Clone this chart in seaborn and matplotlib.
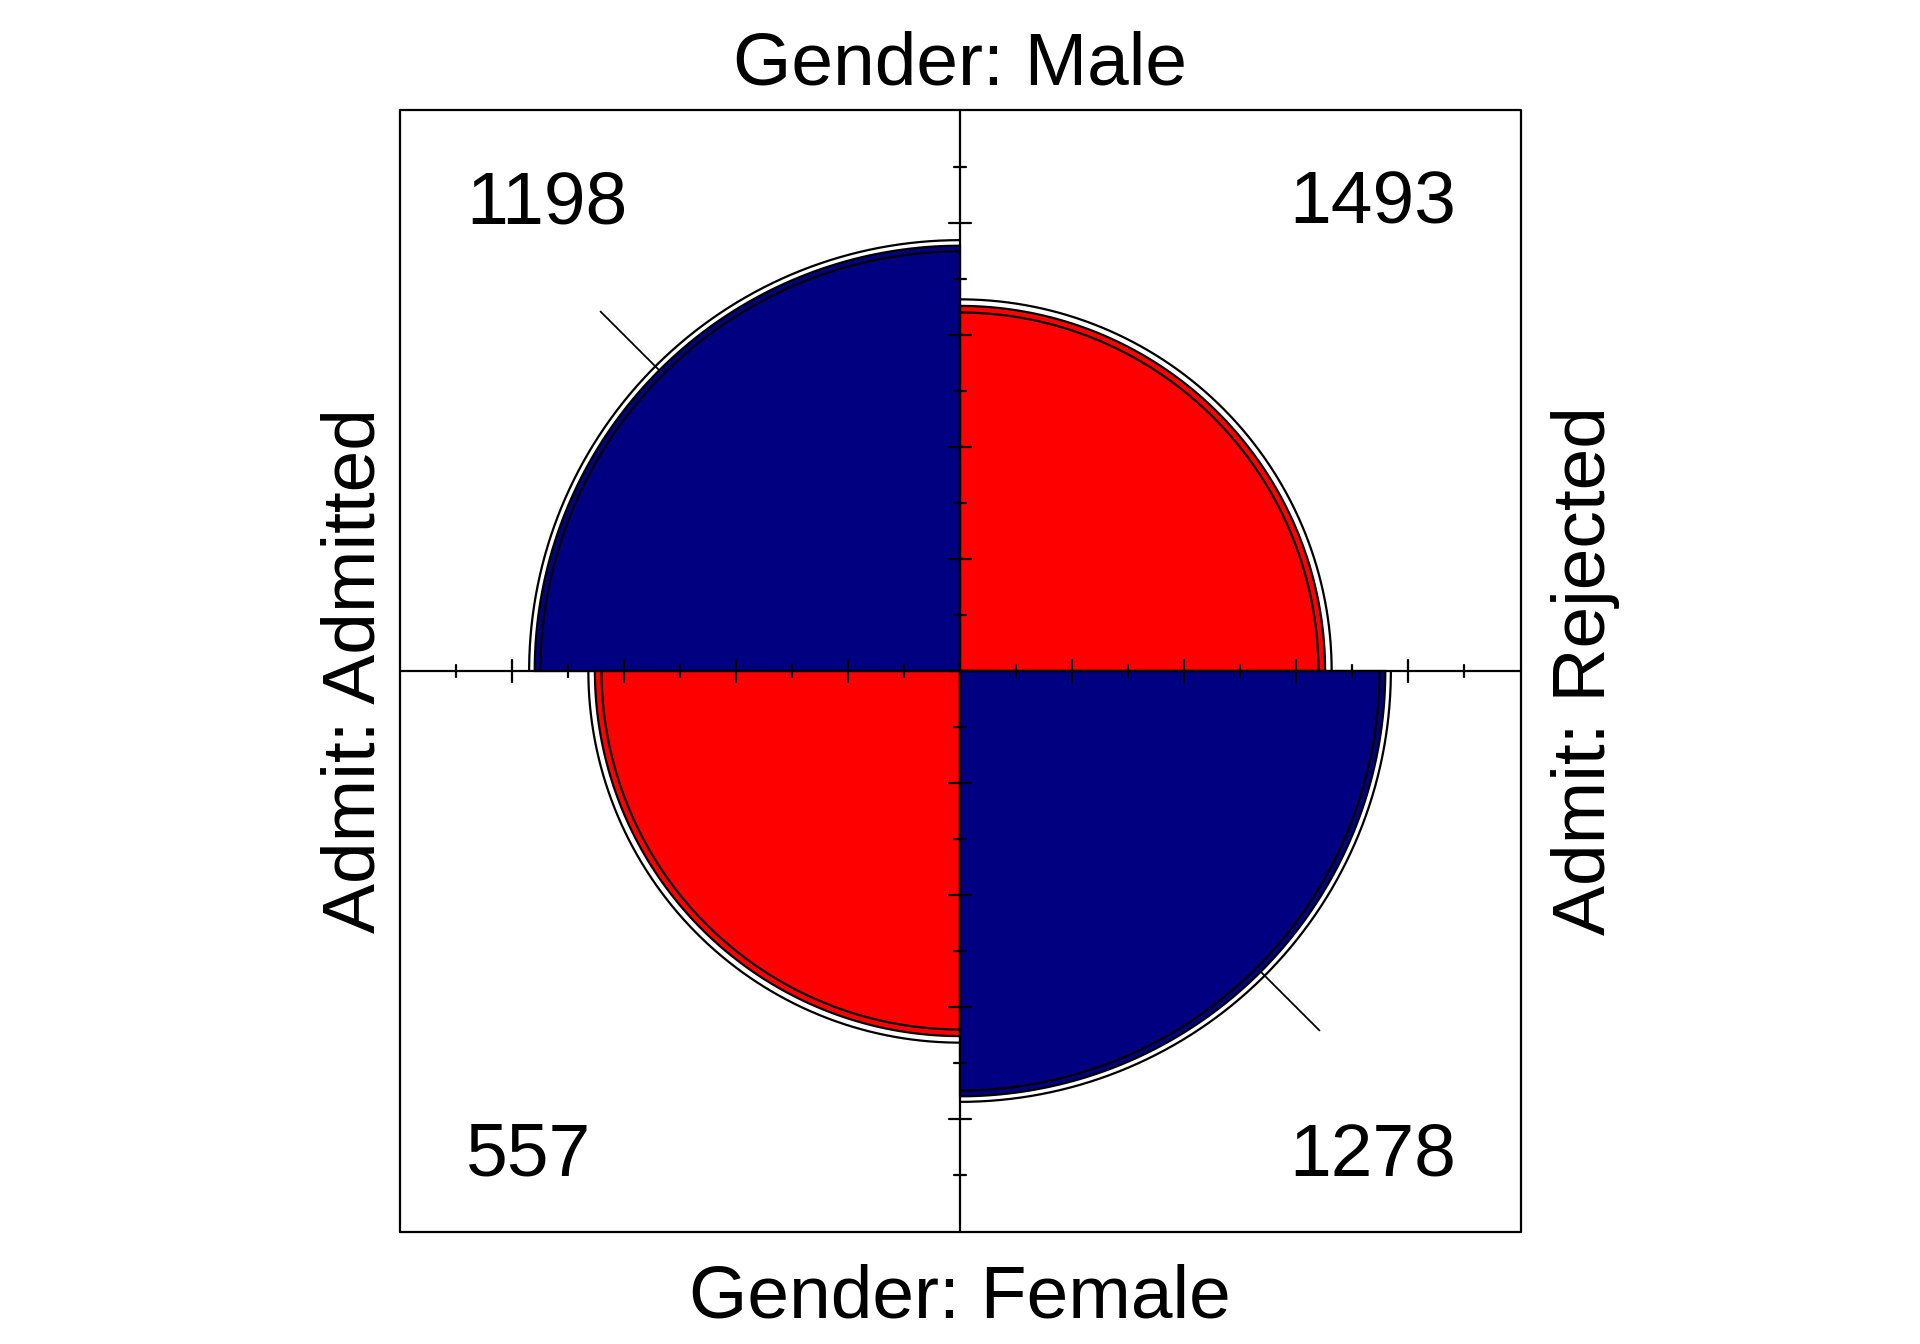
import numpy as np
import pandas as pd
import matplotlib
matplotlib.use("Agg")
import matplotlib.pyplot as plt
import seaborn as sns

# ---------------- data (UCB admissions, aggregated) ----------------
row_var = "Admit"
row_levels = ["Admitted", "Rejected"]
col_var = "Gender"
col_levels = ["Male", "Female"]
male_counts = [1198, 1493]      # Admitted, Rejected
female_counts = [557, 1278]     # Admitted, Rejected
conf_level = 0.95

# ---------------- style ----------------
sns.set_theme(style="white")
plt.rcParams['font.family'] = ['Liberation Sans', 'DejaVu Sans']
plt.rcParams['text.color'] = 'black'

W, H = 1920, 1344
fig = plt.figure(figsize=(19.2, 13.44), dpi=100)
ax = fig.add_axes([0, 0, 1, 1])
unit = 560.5
cx, cy = 960.0, 671.0

LW = 1.6
BLUE = "#000080"
RED = "#FF0000"
FS = 54

# ---------------- standardisation (margins) ----------------
a, b = male_counts          # TL, TR
c, d = female_counts        # BL, BR
odds_ratio = a * d / (b * c)
se = np.sqrt(1 / a + 1 / b + 1 / c + 1 / d)
z = 1.959964
or_lo = odds_ratio * np.exp(-z * se)
or_hi = odds_ratio * np.exp(z * se)


def ustd(theta):
    r = np.sqrt(theta)
    return r / (1 + r)


u = ustd(odds_ratio)
u_lo, u_hi = ustd(or_lo), ustd(or_hi)

# quadrant: (start angle, is diagonal cell, count, text x, text y, ha)
quads = [
    (90, True, a, -0.881, 0.799, "left"),
    (0, False, b, 0.886, 0.799, "right"),
    (180, False, c, -0.881, -0.900, "left"),
    (270, True, d, 0.886, -0.900, "right"),
]


def arc(r, start, n=400):
    t = np.deg2rad(np.linspace(start, start + 90, n))
    return r * np.cos(t), r * np.sin(t)


for start, diag, cnt, tx, ty, ha in quads:
    frac = u if diag else 1 - u
    r = np.sqrt(frac)
    x, y = arc(r, start)
    ax.fill(np.r_[0, x, 0], np.r_[0, y, 0], facecolor=BLUE if diag else RED,
            edgecolor="black", lw=LW, zorder=1)
    for uu in (u_lo, u_hi):
        rr = np.sqrt(uu if diag else 1 - uu)
        xx, yy = arc(rr, start)
        df = pd.DataFrame({"x": xx, "y": yy})
        sns.lineplot(data=df, x="x", y="y", sort=False, estimator=None,
                     color="black", lw=LW, ax=ax, zorder=2)
    ax.text(tx, ty, str(cnt), ha=ha, va="baseline", fontsize=FS, color="black", zorder=4)

# diagonal marker lines
r_blue = np.sqrt(u)
r_end = 0.907
for ang in (135, 315):
    t = np.deg2rad(ang)
    ax.plot([r_blue * np.cos(t), r_end * np.cos(t)],
            [r_blue * np.sin(t), r_end * np.sin(t)], color="black", lw=LW * 0.8, zorder=2)

# axes and ticks
ax.plot([-1, 1], [0, 0], color="black", lw=LW, zorder=3)
ax.plot([0, 0], [-1, 1], color="black", lw=LW, zorder=3)
major = np.arange(-0.8, 0.81, 0.2)
minor = np.arange(-0.9, 0.91, 0.2)
for j in major:
    ax.plot([j, j], [-0.02, 0.02], color="black", lw=LW, zorder=3)
    ax.plot([-0.02, 0.02], [j, j], color="black", lw=LW, zorder=3)
for j in minor:
    ax.plot([j, j], [-0.01, 0.01], color="black", lw=LW, zorder=3)
    ax.plot([-0.01, 0.01], [j, j], color="black", lw=LW, zorder=3)

# box
ax.plot([-1, 1, 1, -1, -1], [-1, -1, 1, 1, -1], color="black", lw=LW, zorder=3)

# labels
ax.text(0, 1.047, f"{col_var}: {col_levels[0]}", ha="center", va="baseline",
        fontsize=FS, color="black")
ax.text(0, -1.153, f"{col_var}: {col_levels[1]}", ha="center", va="baseline",
        fontsize=FS, color="black")
ax.text(-1.044, 0, f"{row_var}: {row_levels[0]}", ha="center", va="baseline",
        rotation=90, rotation_mode="anchor", fontsize=FS, color="black")
ax.text(1.151, 0, f"{row_var}: {row_levels[1]}", ha="center", va="baseline",
        rotation=90, rotation_mode="anchor", fontsize=FS, color="black")

ax.set_xlim(-cx / unit, (W - cx) / unit)
ax.set_ylim(-(H - cy) / unit, cy / unit)
ax.axis("off")

fig.savefig("out.png", dpi=100, facecolor="white")
